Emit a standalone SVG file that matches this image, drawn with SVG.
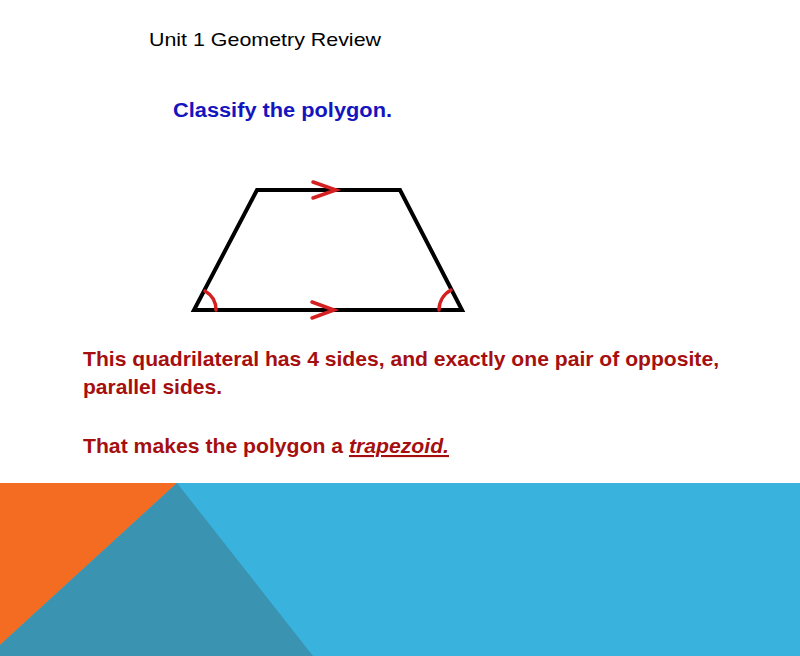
<svg xmlns="http://www.w3.org/2000/svg" width="800" height="656" viewBox="0 0 800 656">
<style>
.title{font-family:"Liberation Sans",Arial,sans-serif;font-size:19px;fill:#000}
.q{font-family:"Liberation Sans",Arial,sans-serif;font-size:20px;font-weight:bold;fill:#1515C0}
.body{font-family:"Liberation Sans",Arial,sans-serif;font-size:21px;font-weight:bold;fill:#A50F0F}
.edge{stroke:#000;stroke-width:4;fill:none;stroke-linejoin:miter}
.mark{stroke:#D42020;stroke-width:3.5;fill:none;stroke-linecap:round}
</style>
<rect width="800" height="656" fill="#fff"/>
<g id="background">
<rect x="0" y="483" width="800" height="173" fill="#3AB2DE"/>
<polygon points="0,483 177,483 0,645" fill="#F36C21"/>
<polygon points="177,483 313,656 0,656 0,645" fill="#3A93B0"/>
</g>
<text class="title" x="149" y="46" textLength="232" lengthAdjust="spacingAndGlyphs">Unit 1 Geometry Review</text>
<text class="q" x="173" y="117" textLength="219" lengthAdjust="spacingAndGlyphs">Classify the polygon.</text>
<g id="trapezoid">
<polygon class="edge" points="257,190 400,190 462,310 194,310"/>
<path class="mark" d="M313,182 L336,190 L313,198"/>
<path class="mark" d="M312,302 L334,310 L312,318"/>
<path class="mark" d="M205,291 A22,22 0 0 1 216,310"/>
<path class="mark" d="M439,310 A23,23 0 0 1 451,290"/>
</g>
<text class="body" x="83" y="366" textLength="636" lengthAdjust="spacingAndGlyphs">This quadrilateral has 4 sides, and exactly one pair of opposite,</text>
<text class="body" x="83" y="394" textLength="139" lengthAdjust="spacingAndGlyphs">parallel sides.</text>
<text class="body" x="83" y="453" textLength="366" lengthAdjust="spacingAndGlyphs">That makes the polygon a <tspan font-style="italic" text-decoration="underline">trapezoid.</tspan></text>
</svg>
